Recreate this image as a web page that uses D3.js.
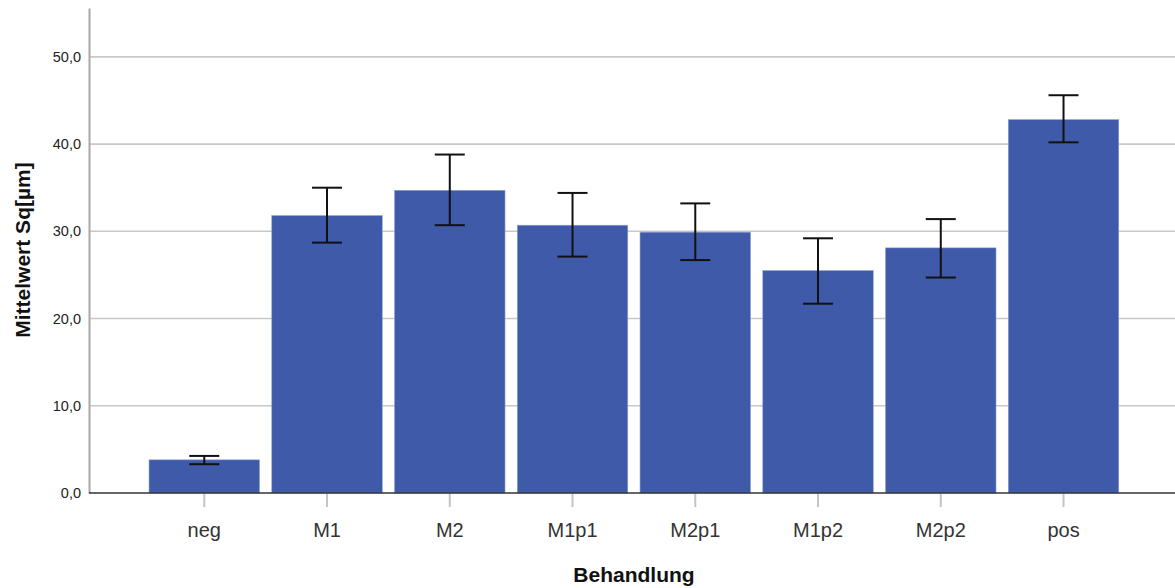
<!DOCTYPE html>
<html>
<head>
<meta charset="utf-8">
<script src="https://cdn.jsdelivr.net/npm/d3@7"></script>
<style>
  html, body { margin: 0; padding: 0; background: #fff; }
  svg { display: block; font-family: "Liberation Sans", Arial, sans-serif; }
</style>
</head>
<body>
<svg id="chart" width="1175" height="588"></svg>
<script>
// Mean Sq per treatment group with error bars (lower / upper bound)
const categories = ["neg", "M1", "M2", "M1p1", "M2p1", "M1p2", "M2p2", "pos"];
const means      = [3.8, 31.8, 34.7, 30.7, 29.9, 25.5, 28.1, 42.8];
const lowerBound = [3.3, 28.7, 30.7, 27.1, 26.7, 21.7, 24.7, 40.2];
const upperBound = [4.25, 35.0, 38.8, 34.4, 33.2, 29.2, 31.4, 45.6];
const yTicks     = [0, 10, 20, 30, 40, 50];

const rows = categories.map((c, i) => ({
  cat: c, mean: means[i], lo: lowerBound[i], hi: upperBound[i]
}));

const svg = d3.select("#chart");
const plotLeft = 89, plotRight = 1175, plotTop = 8, plotBottom = 493;

const x = d3.scaleBand()
  .domain(categories)
  .range([142.9, 1124.9])
  .paddingInner(0.1)
  .paddingOuter(0.05);

const y = d3.scaleLinear()
  .domain([0, 55.6])
  .range([plotBottom, plotTop]);

const fmt = v => d3.format(".1f")(v).replace(".", ",");

// horizontal grid lines
svg.append("g")
  .selectAll("line")
  .data(yTicks.filter(t => t > 0))
  .join("line")
  .attr("x1", plotLeft).attr("x2", plotRight)
  .attr("y1", d => y(d)).attr("y2", d => y(d))
  .attr("stroke", "#c8c8c8")
  .attr("stroke-width", 1.6);

// bars
svg.append("g")
  .selectAll("rect")
  .data(rows)
  .join("rect")
  .attr("x", d => x(d.cat))
  .attr("width", x.bandwidth())
  .attr("y", d => y(d.mean))
  .attr("height", d => y(0) - y(d.mean))
  .attr("fill", "#3f5aa8")
  .attr("stroke", "#8ea0d0")
  .attr("stroke-width", 0.6);

// error bars
const eb = svg.append("g")
  .attr("stroke", "#111")
  .attr("stroke-width", 2);
const cap = 15;
rows.forEach(d => {
  const cx = x(d.cat) + x.bandwidth() / 2;
  eb.append("line").attr("x1", cx).attr("x2", cx).attr("y1", y(d.hi)).attr("y2", y(d.lo));
  eb.append("line").attr("x1", cx - cap).attr("x2", cx + cap).attr("y1", y(d.hi)).attr("y2", y(d.hi));
  eb.append("line").attr("x1", cx - cap).attr("x2", cx + cap).attr("y1", y(d.lo)).attr("y2", y(d.lo));
});

// y axis
const yAxis = svg.append("g")
  .attr("transform", `translate(${plotLeft},0)`)
  .call(d3.axisLeft(y).tickValues(yTicks).tickFormat(fmt).tickSize(0).tickPadding(8));
yAxis.select(".domain").attr("stroke", "#a8a8a8").attr("stroke-width", 2);
yAxis.selectAll("text")
  .attr("font-size", 14.5)
  .attr("fill", "#222")
  .style("font-family", "'Liberation Sans', Arial, sans-serif");

// x axis
const xAxis = svg.append("g")
  .attr("transform", `translate(0,${plotBottom})`)
  .call(d3.axisBottom(x).tickSize(14).tickPadding(16));
xAxis.select(".domain").remove();
xAxis.selectAll(".tick line").attr("stroke", "#c4c4c4").attr("stroke-width", 2);
xAxis.selectAll("text")
  .attr("font-size", 20)
  .attr("fill", "#333")
  .style("font-family", "'Liberation Sans', Arial, sans-serif");

// baseline
svg.append("line")
  .attr("x1", plotLeft).attr("x2", plotRight)
  .attr("y1", y(0)).attr("y2", y(0))
  .attr("stroke", "#333")
  .attr("stroke-width", 1.6);

// axis titles
svg.append("text")
  .attr("x", 634).attr("y", 582)
  .attr("text-anchor", "middle")
  .attr("font-size", 21)
  .attr("font-weight", "bold")
  .attr("fill", "#111")
  .text("Behandlung");

svg.append("text")
  .attr("transform", "translate(30,250) rotate(-90)")
  .attr("text-anchor", "middle")
  .attr("font-size", 21)
  .attr("font-weight", "bold")
  .attr("fill", "#111")
  .text("Mittelwert Sq[µm]");
</script>
</body>
</html>
